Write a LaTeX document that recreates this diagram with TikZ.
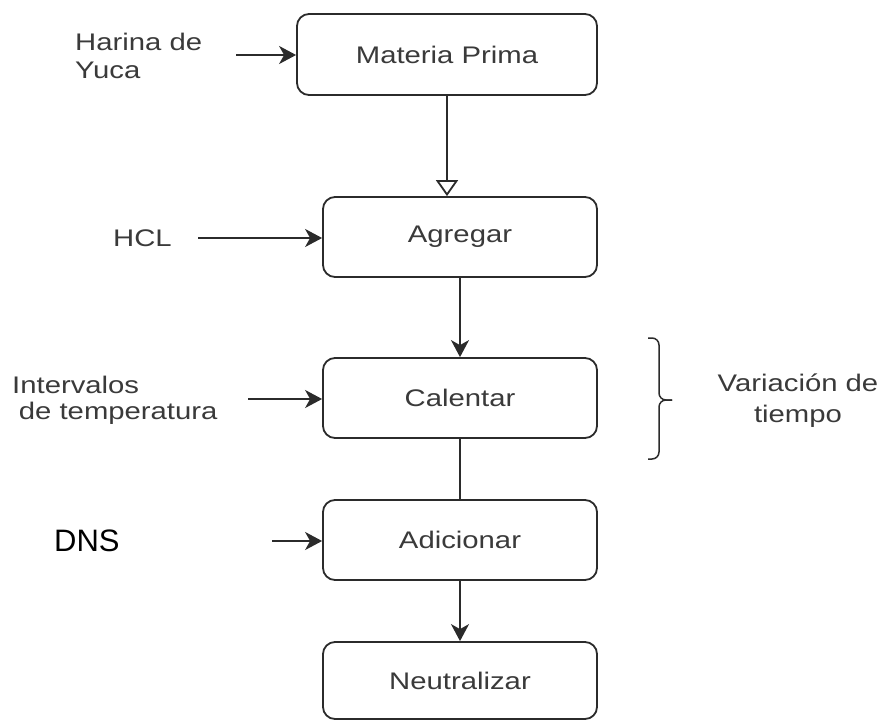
\documentclass[tikz,border=0pt]{standalone}
\usepackage{fontspec}
\setmainfont{Liberation Sans}
\newfontfamily\flowfont[FakeStretch=1.22]{Liberation Sans}
\usepackage{tikz}
\usetikzlibrary{arrows.meta,positioning}
\definecolor{ink}{HTML}{2B2B2B}
\definecolor{txt}{HTML}{3A3A3A}
\tikzset{
  >={Stealth[length=17pt,width=18pt,inset=5pt]},
  box/.style={draw=ink,rounded corners=12pt,line width=1.8pt,minimum width=274pt,minimum height=80pt,inner sep=0pt,font=\flowfont\fontsize{24}{28}\selectfont,text=txt},
  lab/.style={font=\flowfont\fontsize{24}{28}\selectfont,text=txt,align=left,inner sep=0pt},
  arr/.style={->,draw=ink,line width=1.8pt},
  ln/.style={draw=ink,line width=1.8pt},
  brc/.style={draw=ink,line width=1.5pt,rounded corners=7pt},
}

\begin{document}
\begin{tikzpicture}[x=1pt,y=-1pt]
\useasboundingbox[fill=white] (0,0) rectangle (883,720);
% process column
\node[box,minimum width=300pt,minimum height=81pt] (mp) at (447,54.5) {Materia Prima};
\node[box] (agr) at (460,237) {Agregar};
\node[box] (cal) at (460,398) {Calentar};
\node[box] (adi) at (460,540) {Adicionar};
\node[box,minimum height=77pt] (neu) at (460,680.5) {Neutralizar};
% inputs on the left
\node[lab,anchor=west] (hy) at (75,56) {Harina de\\Yuca};
\node[lab,anchor=west] (hcl) at (113,238) {HCL};
\node[lab,anchor=west,font=\flowfont\fontsize{24}{26}\selectfont] (itv) at (12,400) {Intervalos\\\hspace*{0.28em}de temperatura};
\node[anchor=west,inner sep=0pt,font=\fontsize{31}{36}\selectfont] (dns) at (54,541) {DNS};
\coordinate (hy-s) at (236,55);
\coordinate (hcl-s) at (198,238);
\coordinate (itv-s) at (248,399);
\coordinate (dns-s) at (272,541);
% brace on the right
\coordinate (br-t) at (648,338);
\coordinate (br-b) at (648,459);
\coordinate (br-m) at (659,400);
\coordinate (br-tip) at (672,400);
\node[lab,align=center,font=\flowfont\fontsize{24}{31}\selectfont] (vt) at (798,401) {Variación de\\tiempo};

\draw[arr] (hy-s) -- (mp.west |- hy-s);
\draw[arr] (hcl-s) -- (agr.west |- hcl-s);
\draw[arr] (itv-s) -- (cal.west |- itv-s);
\draw[arr] (dns-s) -- (adi.west |- dns-s);
\draw[ln,-{Triangle[open,length=16pt,width=22pt,fill=white]}] (mp.south) -- (agr.north -| mp.south);
\draw[arr] (agr) -- (cal);
\draw[ln] (cal) -- (adi);
\draw[arr] (adi) -- (neu);
\draw[brc] (br-t) -| (br-m) -- (br-tip);
\draw[brc] (br-b) -| (br-m) -- (br-tip);
\end{tikzpicture}
\end{document}
